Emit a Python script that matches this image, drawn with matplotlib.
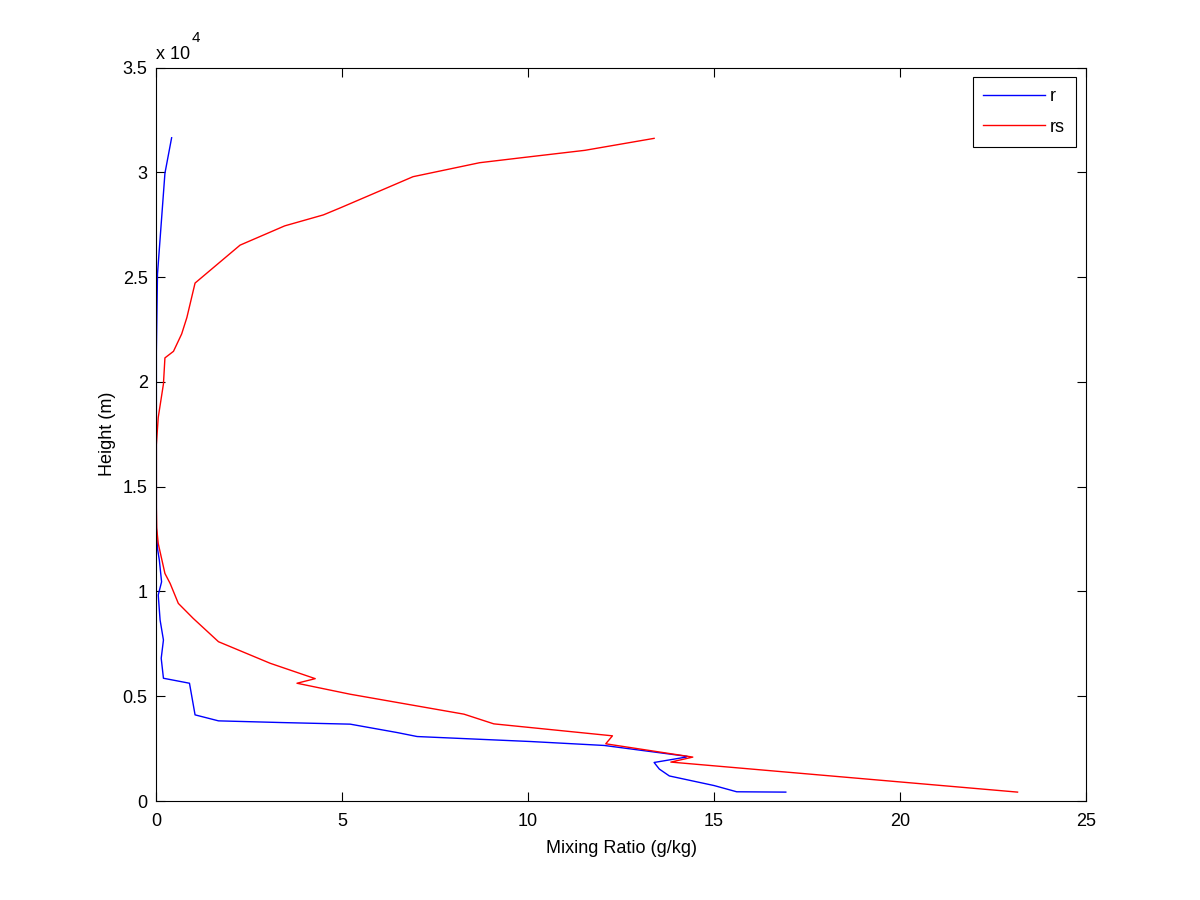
import numpy as np
import matplotlib
matplotlib.use("Agg")
import matplotlib.pyplot as plt
from matplotlib.ticker import FuncFormatter

plt.rcParams["font.family"] = ["Liberation Sans", "DejaVu Sans"]

# mixing ratio r (g/kg) vs height (m)
z_r = [424, 440, 738, 1195, 1524, 1838, 2095, 2130, 2650, 2838, 3076, 3267,
       3667, 3743, 3824, 4110, 5619, 5857, 6810, 7681, 8633, 9830, 10457,
       11490, 12048, 13076, 15000, 18000, 21410, 25143, 29952, 31648]
r = [16.93, 15.61, 15.0, 13.8, 13.53, 13.39, 14.25, 14.28, 12.05, 10.07, 7.02, 6.48,
     5.22, 3.38, 1.68, 1.05, 0.9, 0.2, 0.14, 0.2, 0.11, 0.06, 0.15,
     0.09, 0.04, 0.01, 0.01, 0.01, 0.01, 0.04, 0.24, 0.42]

# saturation mixing ratio rs (g/kg) vs height (m)
z_rs = [424, 1857, 2095, 2729, 3110, 3681, 4143, 5095, 5619, 5838, 6571, 7600,
        8714, 9429, 10381, 10857, 12286, 13000, 14000, 17000, 18300, 19900,
        21143, 21457, 22286, 23070, 24714, 26524, 27443, 27967, 28314, 29790,
        30457, 30695, 31048, 31619]
rs = [23.16, 13.84, 14.43, 12.09, 12.27, 9.08, 8.28, 5.22, 3.79, 4.28, 3.07, 1.68,
      1.0, 0.60, 0.38, 0.24, 0.06, 0.02, 0.01, 0.01, 0.06, 0.2,
      0.24, 0.47, 0.69, 0.83, 1.05, 2.26, 3.46, 4.5, 4.97, 6.91,
      8.70, 9.83, 11.53, 13.39]

x_ticks = [0, 5, 10, 15, 20, 25]
y_ticks = [0, 5000, 10000, 15000, 20000, 25000, 30000, 35000]

fs = 13

fig = plt.figure(figsize=(12, 9), dpi=100)
ax = fig.add_axes([0.13, 0.11, 0.775, 0.815])

ax.plot(r, z_r, color=(0, 0, 1), lw=1.0, label="r")
ax.plot(rs, z_rs, color=(1, 0, 0), lw=1.0, label="rs")

ax.set_xlim(0, 25)
ax.set_ylim(0, 35000)
ax.set_xticks(x_ticks)
ax.set_yticks(y_ticks)
ax.yaxis.set_major_formatter(FuncFormatter(lambda v, p: f"{v / 1e4:g}"))
ax.tick_params(direction="in", length=6.7, width=0.8, top=True, right=True,
               labelsize=fs)
ax.tick_params(axis="x", pad=9)
ax.tick_params(axis="y", pad=6)
for s in ax.spines.values():
    s.set_linewidth(0.8)

ax.set_xlabel("Mixing Ratio (g/kg)", fontsize=fs, labelpad=7)
ax.set_ylabel("Height (m)", fontsize=fs, labelpad=5)

# matlab style exponent label
ax.text(0.0, 1.012, "x 10", transform=ax.transAxes, fontsize=fs,
        ha="left", va="baseline")
ax.text(0.0387, 1.0345, "4", transform=ax.transAxes, fontsize=11,
        ha="left", va="baseline")

leg = ax.legend(loc="upper right", fancybox=False, framealpha=1, edgecolor="black",
                handlelength=3.4, handletextpad=0.3, fontsize=fs,
                borderaxespad=0.55, labelspacing=0.75, borderpad=0.6)
leg.get_frame().set_linewidth(0.8)

fig.savefig("out.png", dpi=100, facecolor="white")
